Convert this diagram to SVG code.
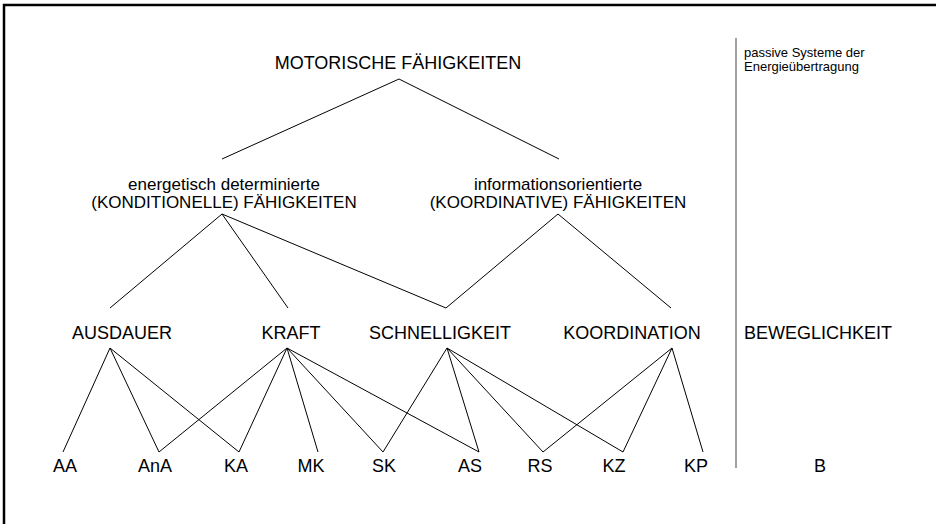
<svg xmlns="http://www.w3.org/2000/svg" width="936" height="524" viewBox="0 0 936 524">
<style>
text{font-family:"Liberation Sans",Arial,sans-serif;fill:#000;text-anchor:middle}
.t{font-size:18px}
.m{font-size:17px}
.s{font-size:13px;text-anchor:start}
.c line{stroke:#000;stroke-width:1}
</style>
<rect width="936" height="524" fill="#fff"/>
<path d="M4,524 V5 H936" fill="none" stroke="#000" stroke-width="2.5"/>
<line x1="736" y1="38" x2="736" y2="468" stroke="#808080" stroke-width="1.5"/>
<g id="note"><text class="s" x="744" y="57">passive Systeme der</text><text class="s" x="744" y="71">Energieübertragung</text></g>
<g id="motorische"><text class="t" x="398" y="69">MOTORISCHE FÄHIGKEITEN</text></g>
<g id="konditionelle"><text class="m" x="224" y="190">energetisch determinierte</text><text class="m" x="224" y="208">(KONDITIONELLE) FÄHIGKEITEN</text></g>
<g id="koordinative"><text class="m" x="558" y="190">informationsorientierte</text><text class="m" x="558" y="208">(KOORDINATIVE) FÄHIGKEITEN</text></g>
<g id="ausdauer"><text class="t" x="122" y="339">AUSDAUER</text></g>
<g id="kraft"><text class="t" x="291" y="339">KRAFT</text></g>
<g id="schnelligkeit"><text class="t" x="440" y="339">SCHNELLIGKEIT</text></g>
<g id="koordination"><text class="t" x="632" y="339">KOORDINATION</text></g>
<g id="beweglichkeit"><text class="t" x="818" y="339">BEWEGLICHKEIT</text></g>
<g id="AA"><text class="t" x="65" y="472">AA</text></g>
<g id="AnA"><text class="t" x="155" y="472">AnA</text></g>
<g id="KA"><text class="t" x="236" y="472">KA</text></g>
<g id="MK"><text class="t" x="311" y="472">MK</text></g>
<g id="SK"><text class="t" x="384" y="472">SK</text></g>
<g id="AS"><text class="t" x="470" y="472">AS</text></g>
<g id="RS"><text class="t" x="540" y="472">RS</text></g>
<g id="KZ"><text class="t" x="614" y="472">KZ</text></g>
<g id="KP"><text class="t" x="696" y="472">KP</text></g>
<g id="B"><text class="t" x="820" y="472">B</text></g>
<g id="connectors" class="c">
<line x1="399" y1="79" x2="222" y2="159"/>
<line x1="399" y1="79" x2="559" y2="159"/>
<line x1="222" y1="214" x2="110" y2="308"/>
<line x1="222" y1="214" x2="288" y2="308"/>
<line x1="222" y1="214" x2="446" y2="308"/>
<line x1="558" y1="214" x2="446" y2="308"/>
<line x1="558" y1="214" x2="671" y2="308"/>
<line x1="110" y1="348" x2="63" y2="452"/>
<line x1="110" y1="348" x2="159" y2="452"/>
<line x1="110" y1="348" x2="239" y2="452"/>
<line x1="287" y1="348" x2="159" y2="452"/>
<line x1="287" y1="348" x2="239" y2="452"/>
<line x1="287" y1="348" x2="318" y2="452"/>
<line x1="287" y1="348" x2="383" y2="452"/>
<line x1="287" y1="348" x2="479" y2="452"/>
<line x1="447" y1="348" x2="383" y2="452"/>
<line x1="447" y1="348" x2="479" y2="452"/>
<line x1="447" y1="348" x2="543" y2="452"/>
<line x1="447" y1="348" x2="623" y2="452"/>
<line x1="672" y1="348" x2="543" y2="452"/>
<line x1="672" y1="348" x2="623" y2="452"/>
<line x1="672" y1="348" x2="703" y2="452"/>
</g>
</svg>
